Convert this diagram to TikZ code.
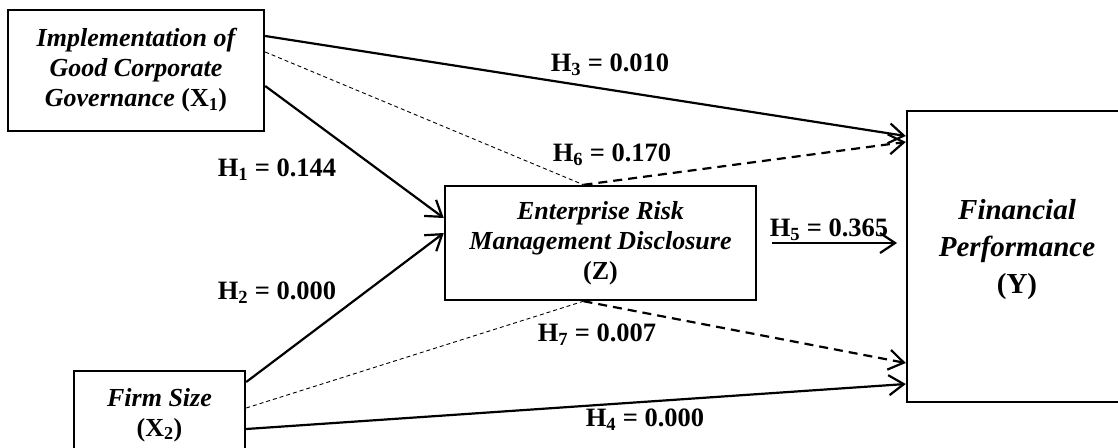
\documentclass[tikz,border=0pt]{standalone}
\usepackage{fontspec}
\setmainfont{Liberation Serif}
\usetikzlibrary{arrows.meta}
\begin{document}
\begin{tikzpicture}[x=1pt,y=-1pt,
  box/.style={draw,line width=2.4pt,inner sep=0pt},
  boxtext/.style={align=center,font=\fontsize{26}{30}\selectfont\bfseries\itshape},
  lab/.style={font=\fontsize{26.5}{28}\selectfont\bfseries,inner sep=0pt},
  sol/.style={line width=2.2pt,-{Straight Barb[length=15pt,width=20pt]}},
  dsh/.style={sol,dash pattern=on 9pt off 6pt},
  thindash/.style={line width=0.9pt,dash pattern=on 4pt off 3pt}]
\useasboundingbox (0,0) rectangle (1118,447);
% boxes
\node[box,boxtext,minimum width=256pt,minimum height=121pt] (x1) at (136,70.5)
  {Implementation of\\Good Corporate\\Governance \textup{(X\textsubscript{1})}};
\node[box,boxtext,minimum width=171pt,minimum height=88pt] (x2) at (159.5,415)
  {Firm Size\\\textup{(X\textsubscript{2})}};
\node[box,boxtext,minimum width=311pt,minimum height=114pt] (z) at (600.5,243)
  {Enterprise Risk\\Management Disclosure\\\textup{(Z)}};
\node[box,minimum width=218pt,minimum height=291pt] (y) at (1016,256.5) {};
\node[boxtext,font=\fontsize{29}{37}\selectfont\bfseries\itshape] (ytext) at (1017,250)
  {Financial\\Performance\\\textup{(Y)}};
% connectors
\draw[sol] ([yshift=34.5pt]x1.east) -- ([yshift=120.5pt]y.west);
\draw[thindash] ([yshift=18.5pt]x1.east) -- ([xshift=-17pt]z.north);
\draw[sol] ([yshift=-15.5pt]x1.east) -- ([yshift=25pt]z.west);
\draw[sol] ([yshift=33pt]x2.east) -- ([yshift=10pt]z.west);
\draw[thindash] ([yshift=7pt]x2.east) -- ([xshift=-17pt]z.south);
\draw[sol] ([yshift=-14pt]x2.east) -- ([yshift=-127.5pt]y.west);
\draw[dsh] ([xshift=-17pt]z.north) -- ([yshift=114.5pt]y.west);
\draw[dsh] ([xshift=-17pt]z.south) -- ([yshift=-106.5pt]y.west);
\coordinate (h5s) at (772,243);
\coordinate (h5e) at (897,243);
\draw[sol] (h5s) -- (h5e);
% labels
\node[lab] (l1) at (277,170) {H\textsubscript{1} = 0.144};
\node[lab] (l2) at (277,293) {H\textsubscript{2} = 0.000};
\node[lab] (l3) at (610,65) {H\textsubscript{3} = 0.010};
\node[lab] (l6) at (612,155) {H\textsubscript{6} = 0.170};
\node[lab] (l5) at (829,230) {H\textsubscript{5} = 0.365};
\node[lab] (l7) at (597,335) {H\textsubscript{7} = 0.007};
\node[lab] (l4) at (645,420) {H\textsubscript{4} = 0.000};
\end{tikzpicture}
\end{document}
